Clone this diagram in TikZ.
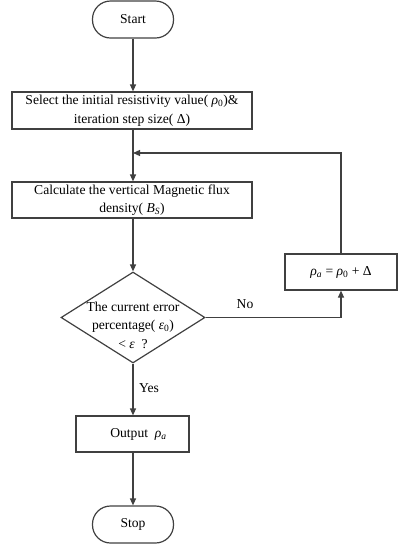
\documentclass[tikz,border=0pt]{standalone}
\usepackage{fontspec}
\setmainfont{Liberation Serif}
\usetikzlibrary{shapes.geometric,arrows.meta}
\newcommand\mrho{\textit{ρ}}
\newcommand\meps{\textit{ε}}
\begin{document}
\begin{tikzpicture}[x=1pt,y=-1pt,
  every node/.style={font=\fontsize{13.6}{18.5}\selectfont, text=black},
  line/.style={draw=black!75, line width=1.2pt},
  arr/.style={line, -{Triangle[length=7pt,width=6pt]}},
  term/.style={line, rounded corners=18pt, minimum width=81pt, minimum height=37pt, inner sep=0pt},
  proc/.style={line, minimum height=37pt, inner sep=0pt, align=center},
  dec/.style={line, diamond, minimum width=144pt, minimum height=91pt, inner sep=0pt, aspect=1.58}]
\useasboundingbox (0,0) rectangle (402,550);
\node[term] (start) at (133,19.5) {Start};
\node[proc, minimum width=240pt] (sel) at (132,110.5) {Select the initial resistivity value( \mrho\textsubscript{0})\&\\iteration step size( Δ)};
\node[proc, minimum width=240pt, minimum height=36pt] (calc) at (132,200) {Calculate the vertical Magnetic flux\\density( \textit{B}\textsubscript{\textit{S}})};
\node[dec] (dec) at (133,317.5) {};
\node[align=center, inner sep=0pt] (dect) at (133,325) {The current error\\percentage( \meps\textsubscript{0})\\< \meps\ \ ?};
\node[proc, minimum width=112pt, minimum height=36pt] (upd) at (341,272) {\mrho\textsubscript{\textit{a}} = \mrho\textsubscript{0} + Δ};
\node[proc, minimum width=113pt, minimum height=36pt] (out) at (132.5,434) {\hspace{12pt}Output \ \mrho\textsubscript{\textit{a}}};
\node[term] (stop) at (133,524.5) {Stop};
\coordinate (merge) at (133,153);
\coordinate (rt) at (341,153);
\coordinate (dr) at (341,317.5);
\node (no) at (245,304) {No};
\node (yes) at (149,388) {Yes};
\draw[arr] (start.south) -- (start.south |- sel.north);
\draw[arr] (start.south |- sel.south) -- (start.south |- calc.north);
\draw[arr] (upd.north) -- (rt) -- (merge);
\draw[arr] (start.south |- calc.south) -- (dec.north);
\draw[arr] (dec.east) -- (dr) -- (upd.south);
\draw[arr] (dec.south) -- (start.south |- out.north);
\draw[arr] (start.south |- out.south) -- (stop.north);
\end{tikzpicture}
\end{document}
